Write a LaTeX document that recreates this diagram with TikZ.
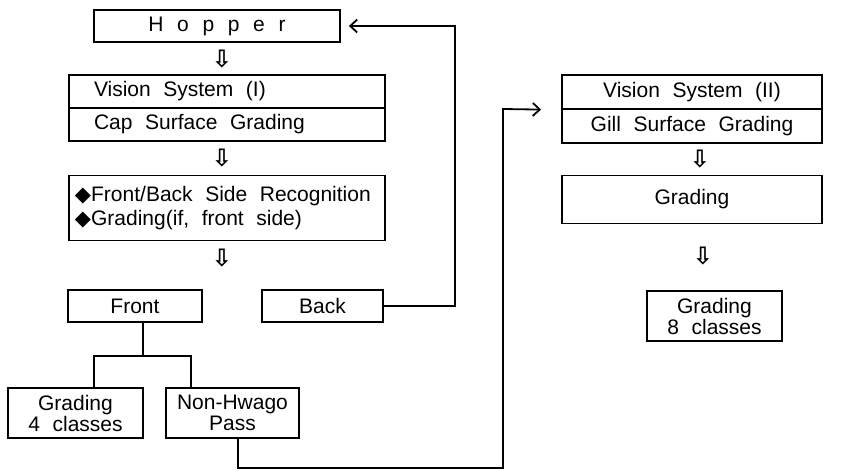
\documentclass[tikz,border=0pt]{standalone}
\usepackage{fontspec}
\setmainfont{Liberation Sans}
\newfontfamily\symfont{DejaVu Sans}
\usetikzlibrary{arrows.meta}
\newcommand\widegaps{\spaceskip=0.6em\relax}
\newcommand\lettergaps{\spaceskip=0.65em\relax}

\begin{document}
\begin{tikzpicture}[x=0.5pt,y=-0.5pt]
\tikzset{
  stagebox/.style={draw=black,line width=0.9pt,inner sep=0pt,align=center,
    font={\fontsize{10.5}{10.5}\selectfont\widegaps}},
  leftbox/.style={stagebox,inner xsep=12.5pt,text width=133pt,align=left,
    execute at begin node=\widegaps},
  flowarrow/.style={font={\symfont\bfseries\fontsize{12}{12}\selectfont},inner sep=0pt},
  feedline/.style={draw=black,line width=0.9pt,line join=miter},
  routed/.style={feedline,-{Straight Barb[length=3.5pt,width=6.5pt]}}
}
\useasboundingbox (0,0) rectangle (848,471);
% left column
\node[stagebox,minimum width=123pt,minimum height=16pt] (hopper) at (217,26) {\lettergaps H o p p e r};
\node[flowarrow] (arr_a) at (222,59) {⇩};
\node[leftbox,minimum height=16.5pt] (vis_a) at (227,91.5) {Vision System (I)};
\node[leftbox,minimum height=16.5pt] (vis_b) at (227,124.5) {Cap Surface Grading};
\node[flowarrow] (arr_b) at (222,158) {⇩};
\node[leftbox,inner xsep=3pt,text width=152pt,minimum height=32.5pt,
  font={\fontsize{10.5}{12}\selectfont}] (recog) at (227,208)
  {{\symfont ◆}Front/Back Side Recognition\\{\symfont ◆}Grading(if, front side)};
\node[flowarrow] (arr_c) at (222,258) {⇩};
\node[stagebox,minimum width=67pt,minimum height=16pt] (front) at (135,306) {Front};
\node[stagebox,minimum width=60.5pt,minimum height=16pt] (back) at (322.5,306) {Back};
\node[stagebox,minimum width=67.5pt,minimum height=25pt] (grade_4) at (75.5,413) {Grading\\4 classes};
\node[stagebox,minimum width=66.5pt,minimum height=25pt] (non_hw) at (232.5,413) {Non-Hwago\\Pass};
% right column
\node[stagebox,minimum width=130pt,minimum height=17pt] (vis2_a) at (692,92) {Vision System (II)};
\node[stagebox,minimum width=130pt,minimum height=17pt] (vis2_b) at (692,126) {Gill Surface Grading};
\node[flowarrow] (arr_d) at (700,159) {⇩};
\node[stagebox,minimum width=130pt,minimum height=24pt] (grade) at (692,199.5) {Grading};
\node[flowarrow] (arr_e) at (703,256) {⇩};
\node[stagebox,minimum width=67.5pt,minimum height=25pt] (grade_8) at (714.5,316) {Grading\\8 classes};
% branches
\coordinate (stem) at (143,356);
\coordinate (lbranch) at (94,356);
\coordinate (rbranch) at (191,356);
\draw[feedline] (front.south -| stem) -- (stem);
\draw[feedline] (grade_4.north -| lbranch) -- (lbranch) -- (rbranch) -- (non_hw.north -| rbranch);
% return loops
\coordinate (back_up) at (455,26);
\draw[routed,shorten >=4pt] (back.east) -| (back_up) -- (hopper.east);
\coordinate (pass_down) at (238,468);
\coordinate (pass_up) at (503,109);
\draw[routed,shorten >=10pt] (non_hw.south -| pass_down) -- (pass_down) -| (pass_up) -- (vis2_a.south west);
\end{tikzpicture}
\end{document}
